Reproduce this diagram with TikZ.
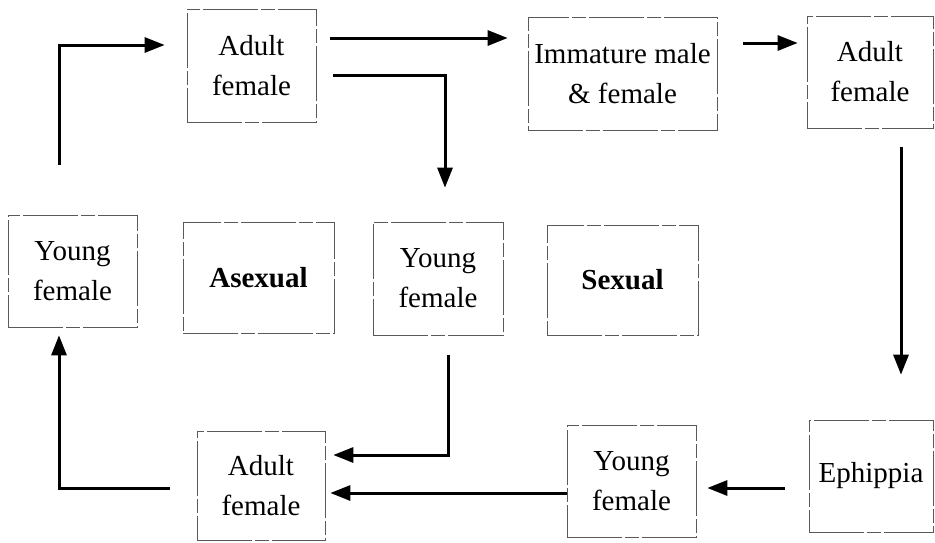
\documentclass[tikz,border=0pt]{standalone}
\usepackage{fontspec}
\setmainfont{Liberation Serif}
\usepackage{tikz}
\usetikzlibrary{arrows.meta}
\usetikzlibrary{calc}
\usetikzlibrary{positioning}

\begin{document}
\begin{tikzpicture}[x=1pt,y=-1pt,>={Triangle[length=20pt,width=15pt]},line join=miter]
	\tikzstyle{stage}=[draw=black!65, line width=0.7pt, dash pattern=on 55pt off 3pt on 14pt off 3pt, rectangle, align=center, inner sep=0pt, font=\fontsize{29}{40}\selectfont]
	\tikzstyle{cyc}=[->, line width=3pt]
	\useasboundingbox (0,0) rectangle (935,542);

	% top row
	\node[stage, minimum width=129pt, minimum height=113pt] (AF1) at (251.5,65.5) {Adult\\female};
	\node[stage, minimum width=189pt, minimum height=113pt] (IM)  at (622.5,73.5) {Immature male\\\& female};
	\node[stage, minimum width=126pt, minimum height=112pt] (AF2) at (870,72)    {Adult\\female};
	% middle row
	\node[stage, minimum width=129pt, minimum height=112pt] (YF1) at (72.5,271)  {Young\\female};
	\node[stage, minimum width=151pt, minimum height=111pt] (AS)  at (258.5,277.5) {\bfseries Asexual};
	\node[stage, minimum width=130pt, minimum height=113pt] (YF2) at (438,278.5) {Young\\female};
	\node[stage, minimum width=151pt, minimum height=110pt] (SX)  at (622.5,280) {\bfseries Sexual};
	% bottom row
	\node[stage, minimum width=128pt, minimum height=109pt] (AF3) at (261,485.5) {Adult\\female};
	\node[stage, minimum width=129pt, minimum height=112pt] (YF3) at (631.5,481) {Young\\female};
	\node[stage, minimum width=124pt, minimum height=112pt] (EP)  at (871,476)   {Ephippia};

	% asexual cycle
	\draw[cyc] ($(YF1.north)+(-13.5,-50)$) |- ($(AF1.west)+(-22,-20.5)$);
	\draw[cyc] ($(AF1.east)+(17,9.5)$) -| ($(YF2.north)+(7,-34)$);
	\draw[cyc] ($(YF2.south)+(10,20)$) |- ($(AF3.east)+(8,-30.5)$);
	\draw[cyc] ($(AF3.west)+(-27,2.5)$) -| ($(YF1.south)+(-13.5,8)$);
	% sexual cycle
	\draw[cyc] ($(AF1.east)+(14,-27.5)$) -- ($(IM.west)+(-20,-35.5)$);
	\draw[cyc] ($(IM.east)+(26,-30.5)$) -- ($(AF2.west)+(-9,-29)$);
	\draw[cyc] ($(AF2.south)+(31,19)$) -- ($(EP.north)+(30,-45)$);
	\draw[cyc] ($(EP.west)+(-24,12)$) -- ($(YF3.east)+(11,7)$);
	\draw[cyc] ($(YF3.west)+(0,12)$) -- ($(AF3.east)+(5,7.5)$);
\end{tikzpicture}
\end{document}
